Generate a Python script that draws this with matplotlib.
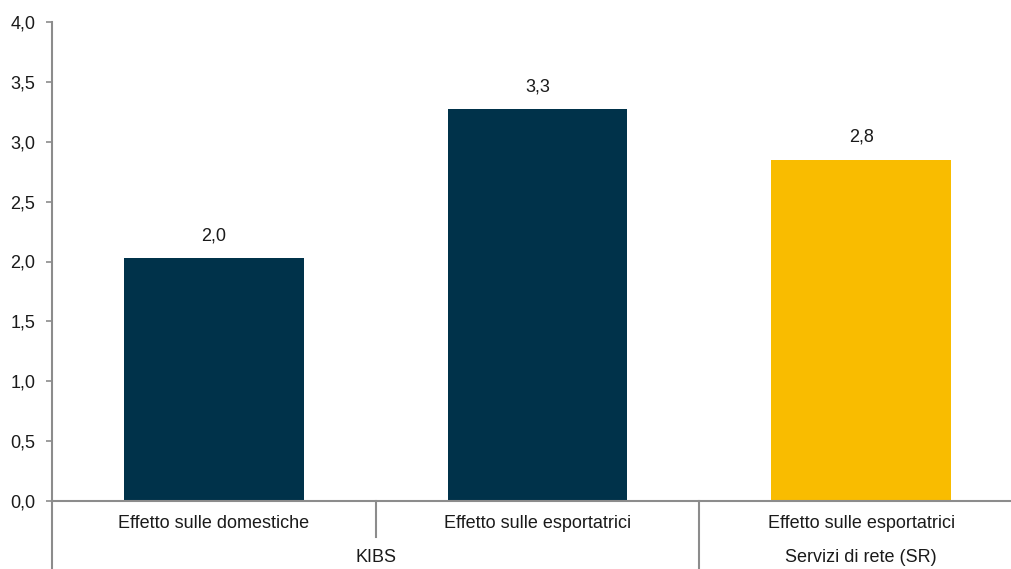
import matplotlib.pyplot as plt
import matplotlib.transforms as mtransforms

# dati
categorie = ["Effetto sulle domestiche", "Effetto sulle esportatrici", "Effetto sulle esportatrici"]
gruppi = ["KIBS", "Servizi di rete (SR)"]
gruppo_di = [0, 0, 1]
valori = [2.03, 3.27, 2.85]
etichette = ["2,0", "3,3", "2,8"]
colori = ["#00324a", "#00324a", "#f9bc00"]

plt.rcParams['font.family'] = ['Liberation Sans', 'DejaVu Sans']
grigio = "#8c8c8c"
fs = 13

W, H = 1011, 569
fig = plt.figure(figsize=(W / 100, H / 100), dpi=100)
ax = fig.add_axes([52 / W, 68 / H, (1023 - 52) / W, 479 / H])

x = list(range(len(categorie)))
ax.bar(x, valori, width=0.556, color=colori, zorder=2)

for xi, v, lab in zip(x, valori, etichette):
    ax.annotate(lab, (xi, v), xytext=(0, 16), textcoords="offset points",
                ha="center", va="center", fontsize=fs, color="#1a1a1a")

ax.set_xlim(-0.5, len(categorie) - 0.5)
ax.set_ylim(0, 4.0)
ax.set_yticks([i * 0.5 for i in range(9)])
ax.set_yticklabels([f"{i * 0.5:.1f}".replace(".", ",") for i in range(9)])
ax.set_xticks([])
ax.tick_params(axis="y", length=4, width=1.2, color=grigio, labelsize=fs,
               labelcolor="#1a1a1a", pad=8)

for s in ["top", "right"]:
    ax.spines[s].set_visible(False)
for s in ["left", "bottom"]:
    ax.spines[s].set_color(grigio)
    ax.spines[s].set_linewidth(1.5)

# assi a due livelli
tr = mtransforms.blended_transform_factory(ax.transData, ax.transAxes)
px = 1 / 479
for xi, cat in zip(x, categorie):
    ax.text(xi, -23 * px, cat, transform=tr, ha="center", va="center",
            fontsize=fs, color="#1a1a1a")

# separatori
for i in range(1, len(categorie)):
    if gruppo_di[i] == gruppo_di[i - 1]:
        ax.plot([i - 0.5, i - 0.5], [0, -36 * px], transform=tr, color=grigio,
                lw=1.5, clip_on=False)
    else:
        ax.plot([i - 0.5, i - 0.5], [0, -70 * px], transform=tr, color=grigio,
                lw=1.5, clip_on=False)
ax.plot([-0.5, -0.5], [0, -70 * px], transform=tr, color=grigio, lw=1.5, clip_on=False)

for g, nome in enumerate(gruppi):
    membri = [xi for xi in x if gruppo_di[xi] == g]
    centro = (min(membri) + max(membri)) / 2
    ax.text(centro, -56 * px, nome, transform=tr, ha="center", va="center",
            fontsize=fs, color="#1a1a1a")

fig.savefig("out.png", dpi=100)
